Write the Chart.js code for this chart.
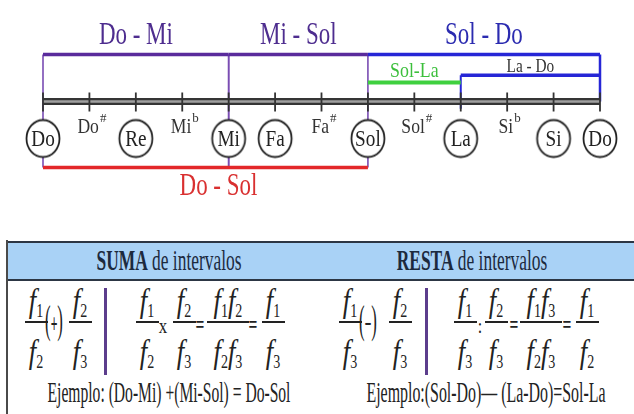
<!DOCTYPE html>
<html>
<head>
<meta charset="utf-8">
<script src="https://cdn.jsdelivr.net/npm/chart.js@4.4.0/dist/chart.umd.min.js"></script>
<style>
    body { margin: 0; width: 634px; height: 414px; overflow: hidden; position: relative; background: #fff; font-family: 'Liberation Serif'; color: #222; }
    #wrap { position: absolute; left: 0; top: 0; width: 634px; height: 230px; }
    .t { position: absolute; white-space: nowrap; line-height: 1; font-family: 'Liberation Serif'; }
    .band { position: absolute; left: 7px; top: 241px; width: 627px; height: 36px; background: #a9d2f6; border-top: 2px solid #2c3644; border-bottom: 2px solid #2c3644; }
    .edge { position: absolute; left: 6px; top: 240px; width: 2px; height: 174px; background: #4a4a4a; }
    .head { font-size: 30px; color: #1c2a3e; }
    .fr { font-size: 34px; }
    .sb { font-size: 18px; vertical-align: -5px; font-style: normal; }
    .op { font-size: 40px; }
    .ex { font-size: 30px; }
    .rule { position: absolute; height: 2px; background: #222; }
    .vbar { position: absolute; width: 3px; top: 288px; height: 87px; background: #5c3d8c; }
</style>
</head>
<body>
<div id="wrap"><canvas id="myChart"></canvas></div>
<script>
// notas con circulo (semitonos desde Do)
const circledNotes = ['Do', 'Re', 'Mi', 'Fa', 'Sol', 'La', 'Si', 'Do'];
const circledSteps = [0, 2, 4, 5, 7, 9, 11, 12];

// notas alteradas
const alteredNotes = ['Do', 'Mi', 'Fa', 'Sol', 'Si'];
const alteredSigns = ['#', 'b', '#', '#', 'b'];
const alteredSteps = [1, 3, 6, 8, 10];

// intervalos
const intervalNames = ['Do - Mi', 'Mi - Sol', 'Sol - Do', 'Sol-La', 'La - Do', 'Do - Sol'];
const intervalFrom = [0, 4, 7, 7, 9, 0];
const intervalTo = [4, 7, 12, 9, 12, 7];

// tabla
const headers = ['SUMA', 'RESTA'];
const examples = ['Ejemplo: (Do-Mi) +(Mi-Sol) = Do-Sol', 'Ejemplo:(Sol-Do)\u2014 (La-Do)=Sol-La'];

// --- layout / estilos ---
const FONT = "'Liberation Serif'";
const bracketLevel = [5.2, 5.2, 5.2, 2.1, 2.9, -7.3];
const dropFrom = [-7.3, -7.3, null, null, -0.8, null];
const dropTo = [-7.3, -7.3, 0, null, null, null];
const bracketColor = ['#5a2b9c', '#5a2b9c', '#2626d6', '#3fd03f', '#2626d6', '#e3282a'];
const dropColor = ['#7a4db3', '#7a4db3', '#2626d6', '#3fd03f', '#2626d6', '#e3282a'];
const dropWidth = [1.6, 1.6, 2.5, 2, 2, 2];
const labelLevel = [7.2, 7.2, 7.2, 3.3, 3.8, -9.5];
const labelShift = [0, 0, 0, 0, 0, 0.28];
const labelColor = ['#4e2d8f', '#4e2d8f', '#2b2bb0', '#3cbf3c', '#333333', '#d93030'];
const labelSize = [31, 31, 31, 21, 18, 31];
const labelScale = [0.74, 0.74, 0.74, 0.85, 0.85, 0.74];
const circleLevel = -4.1;
const alteredLevel = -2.8;

const ring = document.createElement('canvas');
ring.width = 38;
ring.height = 42;
const rc = ring.getContext('2d');
rc.beginPath();
rc.ellipse(19, 21, 16.5, 18.5, 0, 0, Math.PI * 2);
rc.fillStyle = '#fff';
rc.fill();
rc.lineWidth = 1.8;
rc.strokeStyle = '#222';
rc.stroke();

const datasets = [];

datasets.push({
    data: circledSteps.map(s => ({ x: s, y: circleLevel })),
    pointStyle: ring,
    showLine: false,
    order: 0
});

const tickPts = [];
for (let s = 0; s <= 12; s++) {
    tickPts.push({ x: s, y: 1 }, { x: s, y: -1.1 }, { x: s, y: null });
}
datasets.push({ data: tickPts, borderColor: '#333', borderWidth: 1.8, order: 1 });
datasets.push({ data: [{ x: 0, y: 0 }, { x: 12, y: 0 }], borderColor: '#a0a0a0', borderWidth: 2.5, order: 2 });
datasets.push({ data: [{ x: 0, y: 0 }, { x: 12, y: 0 }], borderColor: '#353535', borderWidth: 7, order: 3 });

intervalNames.forEach((name, i) => {
    datasets.push({
        data: [{ x: intervalFrom[i], y: bracketLevel[i] }, { x: intervalTo[i], y: bracketLevel[i] }],
        borderColor: bracketColor[i],
        borderWidth: i === 3 ? 4 : 3.5,
        order: 4 + (i < 2 ? 0 : 1)
    });
    const pts = [];
    if (dropFrom[i] !== null) pts.push({ x: intervalFrom[i], y: bracketLevel[i] }, { x: intervalFrom[i], y: dropFrom[i] }, { x: intervalFrom[i], y: null });
    if (dropTo[i] !== null) pts.push({ x: intervalTo[i], y: bracketLevel[i] }, { x: intervalTo[i], y: dropTo[i] });
    if (pts.length) {
        datasets.push({ data: pts, borderColor: dropColor[i], borderWidth: dropWidth[i], order: 6 + (i < 2 ? 0 : 1) });
    }
});

datasets.forEach(d => {
    if (d.showLine === undefined) d.showLine = true;
    d.pointRadius = d.pointStyle ? 10 : 0;
    d.spanGaps = false;
    d.clip = false;
    d.tension = 0;
});

function drawText(ctx, text, x, y, size, color, sx) {
    ctx.save();
    ctx.translate(x, y);
    ctx.scale(sx, 1);
    ctx.font = size + 'px ' + FONT;
    ctx.textAlign = 'center';
    ctx.textBaseline = 'middle';
    ctx.fillStyle = color;
    ctx.fillText(text, 0, 0);
    ctx.restore();
}

const labelsPlugin = {
    id: 'labels',
    afterDatasetsDraw(chart) {
        const ctx = chart.ctx;
        const xs = chart.scales.x;
        const ys = chart.scales.y;

        circledNotes.forEach((n, i) => {
            drawText(ctx, n, xs.getPixelForValue(circledSteps[i]), ys.getPixelForValue(circleLevel) + 1, 24, '#222', 0.8);
        });

        alteredNotes.forEach((n, i) => {
            const sx = 0.8;
            ctx.font = '22px ' + FONT;
            const w1 = ctx.measureText(n).width * sx;
            ctx.font = '13px ' + FONT;
            const w2 = ctx.measureText(alteredSigns[i]).width;
            const cx = xs.getPixelForValue(alteredSteps[i]);
            const cy = ys.getPixelForValue(alteredLevel);
            const left = cx - (w1 + w2) / 2 + 2;
            drawText(ctx, n, left + w1 / 2, cy, 22, '#333', sx);
            drawText(ctx, alteredSigns[i], left + w1 + w2 / 2 + 1, cy - 8, 13, '#333', 1);
        });

        intervalNames.forEach((name, i) => {
            const mid = (intervalFrom[i] + intervalTo[i]) / 2 + labelShift[i];
            drawText(ctx, name, xs.getPixelForValue(mid), ys.getPixelForValue(labelLevel[i]), labelSize[i], labelColor[i], labelScale[i]);
        });
    }
};

const chart = new Chart(document.getElementById('myChart'), {
    type: 'scatter',
    data: { datasets: datasets },
    options: {
        responsive: true,
        maintainAspectRatio: false,
        animation: false,
        events: [],
        layout: { padding: { left: 43, right: 34, top: 0, bottom: 0 } },
        plugins: { legend: { display: false }, tooltip: { enabled: false } },
        scales: {
            x: { type: 'linear', min: 0, max: 12, display: false },
            y: { type: 'linear', min: -13, max: 10, display: false }
        }
    },
    plugins: [labelsPlugin]
});

document.fonts.ready.then(() => chart.draw());

// ---- tabla de suma / resta ----
function place(html, x, y, cls, sx) {
    const d = document.createElement('div');
    d.className = 't ' + cls;
    d.innerHTML = html;
    d.style.left = x + 'px';
    d.style.top = y + 'px';
    d.style.transform = 'translate(-50%,-50%) scaleX(' + (sx || 1) + ')';
    document.body.appendChild(d);
}

function fText(subs) {
    return subs.map(n => '<i>f</i><span class="sb">' + n + '</span>').join('');
}

const band = document.createElement('div');
band.className = 'band';
document.body.appendChild(band);
const edge = document.createElement('div');
edge.className = 'edge';
document.body.appendChild(edge);

place('<b>' + headers[0] + '</b> de intervalos', 169, 260, 'head', 0.58);
place('<b>' + headers[1] + '</b> de intervalos', 472, 260, 'head', 0.58);

const rows = [
    [
        { x: 36, num: ['1'], den: ['2'] }, { x: 54, op: '(<b style="font-size:28px">+</b>)', sx: 0.42 }, { x: 80, num: ['2'], den: ['3'] },
        { x: 105, bar: true },
        { x: 147, num: ['1'], den: ['2'] }, { x: 163, op: '<span style="font-size:21px">x</span>', sx: 0.8 }, { x: 184, num: ['2'], den: ['3'] },
        { x: 200, op: '<b style="font-size:26px">=</b>', sx: 0.6 }, { x: 228, num: ['1', '2'], den: ['2', '3'] },
        { x: 253, op: '<b style="font-size:26px">=</b>', sx: 0.6 }, { x: 273, num: ['1'], den: ['3'] }
    ],
    [
        { x: 350, num: ['1'], den: ['3'] }, { x: 368, op: '(<b style="font-size:28px">\u2212</b>)', sx: 0.42 }, { x: 400, num: ['2'], den: ['3'] },
        { x: 426, bar: true },
        { x: 465, num: ['1'], den: ['3'] }, { x: 480, op: '<span style="font-size:20px">:</span>', sx: 0.8 }, { x: 496, num: ['2'], den: ['3'] },
        { x: 514, op: '<b style="font-size:26px">=</b>', sx: 0.6 }, { x: 541, num: ['1', '3'], den: ['2', '3'] },
        { x: 567, op: '<b style="font-size:26px">=</b>', sx: 0.6 }, { x: 587, num: ['1'], den: ['2'] }
    ]
];

rows.forEach(row => {
    row.forEach(it => {
        if (it.bar) {
            const v = document.createElement('div');
            v.className = 'vbar';
            v.style.left = (it.x - 1) + 'px';
            document.body.appendChild(v);
        } else if (it.op) {
            place(it.op, it.x, 320, 'op', it.sx);
        } else {
            place(fText(it.num), it.x, 302, 'fr', 0.78);
            place(fText(it.den), it.x, 353, 'fr', 0.78);
            const w = it.num.length * 19 + 4;
            const r = document.createElement('div');
            r.className = 'rule';
            r.style.left = (it.x - w / 2) + 'px';
            r.style.top = '321px';
            r.style.width = w + 'px';
            document.body.appendChild(r);
        }
    });
});

place(examples[0], 169, 392, 'ex', 0.52);
place(examples[1], 486, 392, 'ex', 0.53);
</script>
</body>
</html>
